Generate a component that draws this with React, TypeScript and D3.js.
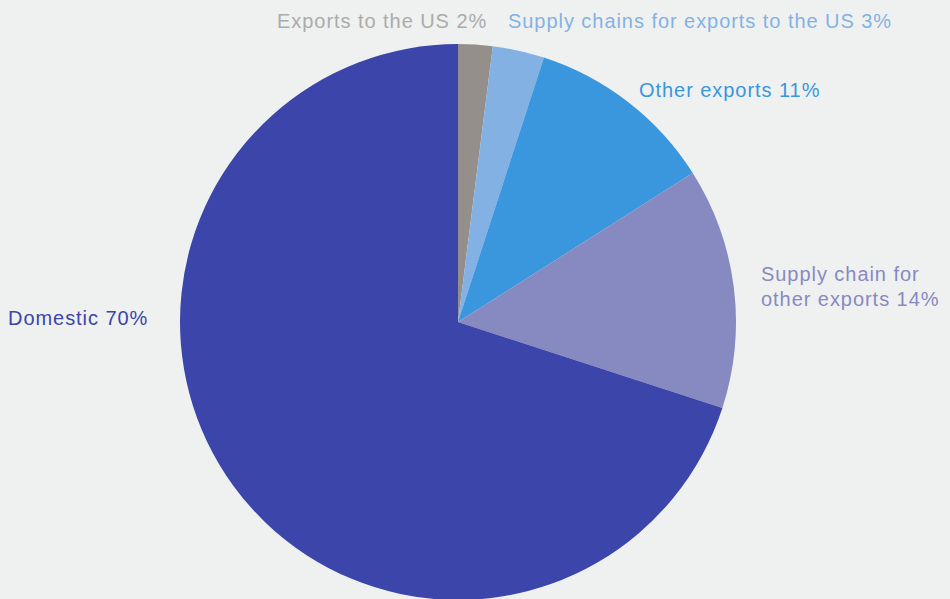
import React from "react";
import * as d3 from "d3";

const categories = [
  "Exports to the US",
  "Supply chains for exports to the US",
  "Other exports",
  "Supply chain for other exports",
  "Domestic",
];
const values = [2, 3, 11, 14, 70];
const sliceColors = ["#958f8c", "#84b1e4", "#3a96dd", "#8789c1", "#3b45aa"];
const labelColors = ["#ababab", "#84b1e4", "#3a96dd", "#8789c1", "#3b45aa"];
const labelLines = [
  ["Exports to the US 2%"],
  ["Supply chains for exports to the US 3%"],
  ["Other exports 11%"],
  ["Supply chain for", "other exports 14%"],
  ["Domestic 70%"],
];
const labelPos: [number, number, string][] = [
  [277, 28, "start"],
  [508, 28, "start"],
  [639, 97, "start"],
  [761, 281, "start"],
  [8, 325, "start"],
];

export default function App() {
  const W = 950, H = 599;
  const cx = 458, cy = 322, r = 278;
  const pie = d3.pie<number>().sort(null).value((d) => d);
  const arcs = pie(values);
  const arc = d3.arc<d3.PieArcDatum<number>>().innerRadius(0).outerRadius(r);
  return (
    <svg width={W} height={H} style={{ position: "absolute", left: 0, top: 0, background: "#eff1f0" }}>
      <rect width={W} height={H} fill="#eff1f0" />
      <g transform={`translate(${cx},${cy})`}>
        {arcs.map((a, i) => (
          <path key={categories[i]} d={arc(a) || ""} fill={sliceColors[i]} />
        ))}
      </g>
      {labelLines.map((lines, i) => (
        <text
          key={i}
          x={labelPos[i][0]}
          y={labelPos[i][1]}
          fill={labelColors[i]}
          fontFamily="Liberation Sans, Arial, sans-serif"
          fontSize={20}
          letterSpacing={0.95}
          textAnchor={labelPos[i][2]}
        >
          {lines.map((l, j) => (
            <tspan key={j} x={labelPos[i][0]} dy={j === 0 ? 0 : 24.5}>{l}</tspan>
          ))}
        </text>
      ))}
    </svg>
  );
}
